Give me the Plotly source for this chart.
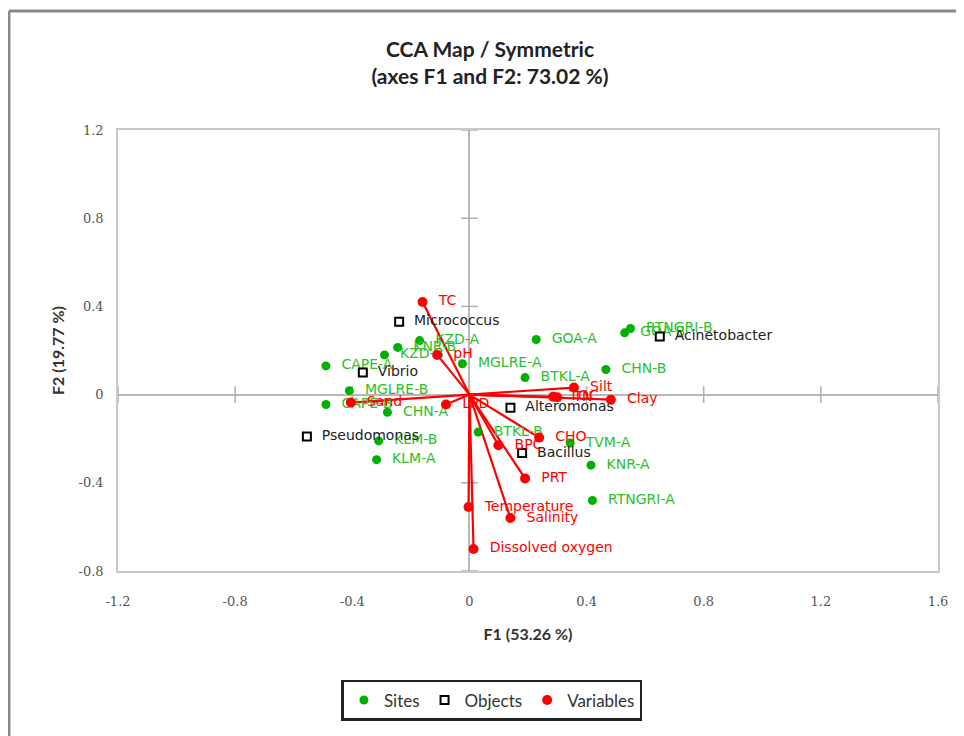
import plotly.graph_objects as go

# Sites (green)
site_names = ["GOA-A", "GOA-B", "RTNGRI-B", "CHN-B", "MGLRE-A", "BTKL-A", "KZD-A", "KNR-B",
              "KZD-B", "CAPE-A", "MGLRE-B", "CAPE-B", "CHN-A", "KLM-B", "KLM-A", "BTKL-B",
              "TVM-A", "KNR-A", "RTNGRI-A"]
site_f1 = [0.228, 0.53, 0.55, 0.466, -0.024, 0.19, -0.17, -0.245,
           -0.29, -0.49, -0.41, -0.49, -0.28, -0.31, -0.317, 0.03,
           0.344, 0.415, 0.42]
site_f2 = [0.25, 0.28, 0.30, 0.114, 0.14, 0.077, 0.245, 0.214,
           0.18, 0.13, 0.018, -0.045, -0.08, -0.21, -0.295, -0.17,
           -0.22, -0.32, -0.48]

# Objects (black squares)
obj_names = ["Micrococcus", "Acinetobacter", "Vibrio", "Alteromonas", "Bacillus", "Pseudomonas"]
obj_f1 = [-0.24, 0.65, -0.364, 0.14, 0.18, -0.555]
obj_f2 = [0.33, 0.264, 0.10, -0.06, -0.265, -0.19]

# Variables (red vectors)
var_names = ["TC", "pH", "Sand", "LPD", "Silt", "TOC", "TN", "Clay", "CHO", "BPC", "PRT",
             "Temperature", "Salinity", "Dissolved oxygen"]
var_f1 = [-0.16, -0.11, -0.405, -0.08, 0.357, 0.286, 0.30, 0.483, 0.238, 0.099, 0.19,
          -0.003, 0.14, 0.014]
var_f2 = [0.42, 0.18, -0.036, -0.045, 0.032, -0.01, -0.012, -0.023, -0.195, -0.23, -0.38,
          -0.51, -0.56, -0.70]

x_ticks = [-1.2, -0.8, -0.4, 0, 0.4, 0.8, 1.2, 1.6]
x_tick_labels = ["-1.2", "-0.8", "-0.4", "0", "0.4", "0.8", "1.2", "1.6"]
y_ticks = [-0.8, -0.4, 0, 0.4, 0.8, 1.2]
y_tick_labels = ["-0.8", "-0.4", "0", "0.4", "0.8", "1.2"]

GREEN = "#00b000"
GREEN_TXT = "#2cbf2c"
RED = "#ff0000"
LABEL_FONT = "DejaVu Sans"
PAD = "\u00a0\u00a0"


def padded(names):
    return [PAD + n for n in names]


fig = go.Figure()

# small tick marks on the zero lines
fig.add_trace(go.Scatter(x=x_ticks, y=[0] * len(x_ticks), mode="markers",
                         marker=dict(symbol="line-ns", size=12, line=dict(color="#b0b0b0", width=1.5)),
                         showlegend=False, hoverinfo="skip"))
fig.add_trace(go.Scatter(x=[0] * len(y_ticks), y=y_ticks, mode="markers",
                         marker=dict(symbol="line-ew", size=12, line=dict(color="#b0b0b0", width=1.5)),
                         showlegend=False, hoverinfo="skip"))

# vectors
vx, vy = [], []
for a, b in zip(var_f1, var_f2):
    vx += [0, a, None]
    vy += [0, b, None]
fig.add_trace(go.Scatter(x=vx, y=vy, mode="lines", line=dict(color=RED, width=2.2),
                         showlegend=False, hoverinfo="skip"))

fig.add_trace(go.Scatter(x=site_f1, y=site_f2, mode="markers+text", name="Sites",
                         text=padded(site_names), textposition="middle right",
                         textfont=dict(color=GREEN_TXT, size=14, family=LABEL_FONT),
                         marker=dict(color=GREEN, size=9, symbol="circle")))
fig.add_trace(go.Scatter(x=obj_f1, y=obj_f2, mode="markers+text", name="Objects",
                         text=padded(obj_names), textposition="middle right",
                         textfont=dict(color="#222222", size=14, family=LABEL_FONT),
                         marker=dict(color="white", size=8, symbol="square",
                                     line=dict(color="black", width=2))))
fig.add_trace(go.Scatter(x=var_f1, y=var_f2, mode="markers+text", name="Variables",
                         text=padded(var_names), textposition="middle right",
                         textfont=dict(color=RED, size=14, family=LABEL_FONT),
                         marker=dict(color=RED, size=10, symbol="circle")))

fig.update_layout(
    width=964, height=736,
    margin=dict(l=110, r=34, t=122, b=173),
    paper_bgcolor="white", plot_bgcolor="white",
    font=dict(family="Lato", size=14, color="#333333"),
    title=dict(text="<b>CCA Map / Symmetric</b><br><b>(axes F1 and F2: 73.02 %)</b>",
               x=0.5, xanchor="center", y=0.934, yanchor="top",
               font=dict(family="Lato", size=21, color="#222222"), automargin=False),
    xaxis=dict(range=[-1.2, 1.6], tickvals=x_ticks, ticktext=x_tick_labels,
               showgrid=False, zeroline=True, zerolinecolor="#b8b8b8", zerolinewidth=1.5,
               showline=True, linecolor="#c8c8c8", linewidth=1.5, mirror=True,
               ticks="", ticklabelstandoff=18,
               tickfont=dict(family="DejaVu Serif", size=13, color="#555555"),
               title=dict(text="<b>F1 (53.26 %)</b>", font=dict(family="Lato", size=16, color="#333333"),
                          standoff=20)),
    yaxis=dict(range=[-0.8, 1.2], tickvals=y_ticks, ticktext=y_tick_labels,
               showgrid=False, zeroline=True, zerolinecolor="#b8b8b8", zerolinewidth=1.5,
               showline=True, linecolor="#c8c8c8", linewidth=1.5, mirror=True,
               ticks="", ticklabelstandoff=10,
               tickfont=dict(family="DejaVu Serif", size=13, color="#555555"),
               title=dict(text="<b>F2 (19.77 %)</b>", font=dict(family="Lato", size=16, color="#333333"),
                          standoff=10)),
    legend=dict(orientation="h", x=0.456, xanchor="center", y=-0.247, yanchor="top",
                bordercolor="#222222", borderwidth=2.5, bgcolor="white",
                font=dict(family="Lato", size=17), itemwidth=30,
                tracegroupgap=0),
    shapes=[
        dict(type="line", xref="paper", yref="paper", x0=-0.133, y0=1.27, x1=1.2, y1=1.27,
             line=dict(color="#888888", width=3), layer="below"),
        dict(type="line", xref="paper", yref="paper", x0=-0.133, y0=-0.5, x1=-0.133, y1=1.27,
             line=dict(color="#888888", width=3), layer="below"),
    ],
)

fig.write_html("out.html")
